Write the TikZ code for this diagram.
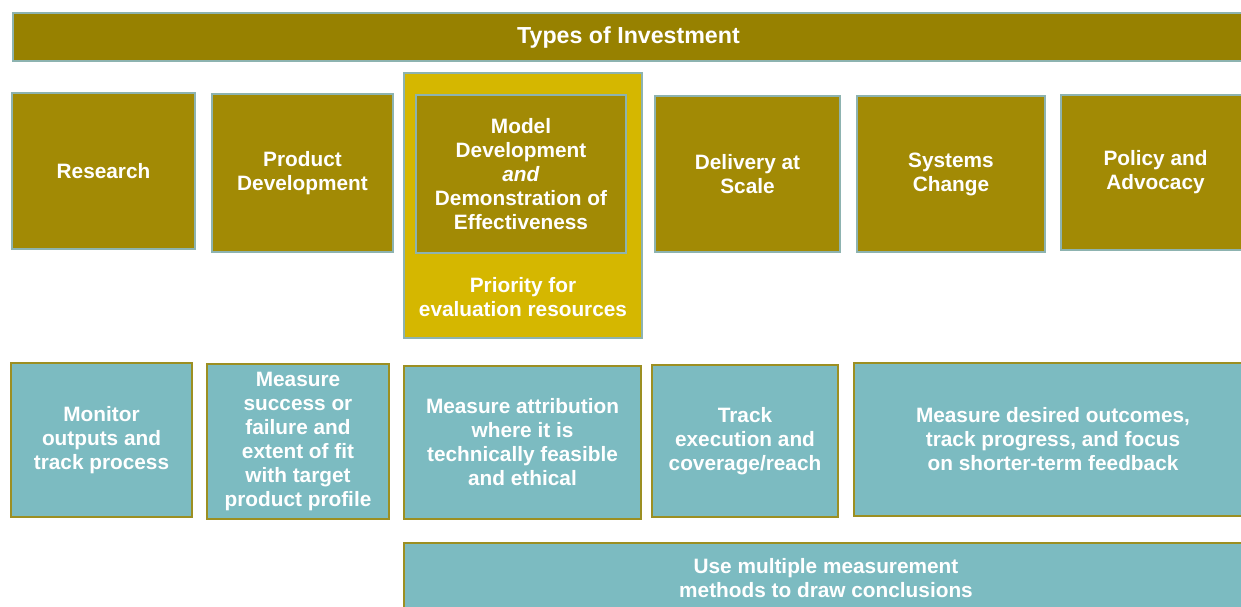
\documentclass[tikz,border=0pt]{standalone}
\usepackage{fontspec}
\setmainfont{Liberation Sans}
\definecolor{barolive}{HTML}{978100}
\definecolor{boxolive}{HTML}{A28A05}
\definecolor{prioyellow}{HTML}{D5B700}
\definecolor{boxteal}{HTML}{7CBBC1}
\definecolor{edgeteal}{HTML}{8DB3B0}
\definecolor{edgeolive}{HTML}{9C8F22}
\tikzset{
  lbl/.style={text=white,font=\bfseries\fontsize{10.4}{12}\selectfont,align=center,inner sep=0pt},
  typebox/.style={lbl,draw=edgeteal,fill=boxolive,line width=0.75pt},
  measbox/.style={lbl,draw=edgeolive,fill=boxteal,line width=1pt}
}
\begin{document}
\begin{tikzpicture}[x=0.5pt,y=-0.5pt]
\useasboundingbox (0,0) rectangle (1241,606);
\clip (0,0) rectangle (1241,606);

% types of investment
\node[typebox,fill=barolive,minimum width=615.5pt,minimum height=24pt,
  font=\bfseries\fontsize{11.6}{13}\selectfont] (types) at (628.5,37) {Types of Investment};

\node[typebox,minimum width=91.5pt,minimum height=78pt] (research) at (103.5,171) {Research};
\node[typebox,minimum width=90.5pt,minimum height=79pt] (product) at (302.5,173) {Product\\Development};
\node[typebox,fill=prioyellow,minimum width=119pt,minimum height=132.5pt] (priobox) at (523,205.5) {};
\node[typebox,minimum width=105pt,minimum height=79pt] (model) at (521,174) {Model\\Development\\\textit{and}\\Demonstration of\\Effectiveness};
\node[lbl] (priority) at (523,297) {Priority for\\evaluation resources};
\node[typebox,minimum width=92.5pt,minimum height=78pt] (delivery) at (747.5,174) {Delivery at\\Scale};
\node[typebox,minimum width=94pt,minimum height=78pt] (systems) at (951,174) {Systems\\Change};
\node[typebox,minimum width=94.5pt,minimum height=77.5pt] (policy) at (1155.5,172.5) {Policy and\\Advocacy};

% what to measure
\node[measbox,minimum width=90.5pt,minimum height=77pt] (monitor) at (101.5,440) {Monitor\\outputs and\\track process};
\node[measbox,minimum width=91pt,minimum height=77.5pt] (success) at (298,441.5) {Measure\\success or\\failure and\\extent of fit\\with target\\product profile};
\node[measbox,minimum width=118.5pt,minimum height=76.5pt] (attrib) at (522.5,442.5) {Measure attribution\\where it is\\technically feasible\\and ethical};
\node[measbox,minimum width=93pt,minimum height=76pt] (track) at (745,441) {Track\\execution and\\coverage/reach};
\node[measbox,minimum width=199pt,minimum height=76.5pt] (desired) at (1053,439.5) {Measure desired outcomes,\\track progress, and focus\\on shorter-term feedback};
\node[measbox,minimum width=422pt,minimum height=35pt] (methods) at (826,578) {Use multiple measurement\\methods to draw conclusions};
\end{tikzpicture}
\end{document}
